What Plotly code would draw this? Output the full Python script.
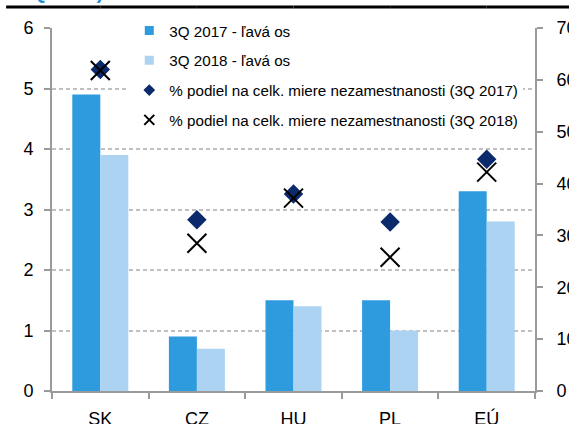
import plotly.graph_objects as go

categories = ["SK", "CZ", "HU", "PL", "EÚ"]
bars_2017 = [4.9, 0.9, 1.5, 1.5, 3.3]
bars_2018 = [3.9, 0.7, 1.4, 1.0, 2.8]
share_2017 = [62.0, 33.0, 38.0, 32.6, 44.7]
share_2018 = [61.8, 28.5, 37.2, 25.8, 42.2]

names = ["3Q 2017 - ľavá os", "3Q 2018 - ľavá os",
         "% podiel na celk. miere nezamestnanosti (3Q 2017)",
         "% podiel na celk. miere nezamestnanosti (3Q 2018)"]

FONT = "Liberation Sans, Arial, sans-serif"
AX = "#9a9a9a"
C17 = "#2E9BDE"
C18 = "#ADD3F2"
NAVY = "#0B2A6B"

fig = go.Figure()
fig.add_trace(go.Bar(x=categories, y=bars_2017, name=names[0], marker_color=C17,
                     marker_line_width=0, showlegend=False))
fig.add_trace(go.Bar(x=categories, y=bars_2018, name=names[1], marker_color=C18,
                     marker_line_width=0, showlegend=False))
fig.add_trace(go.Scatter(x=categories, y=share_2017, name=names[2], mode="markers", yaxis="y2",
                         marker=dict(symbol="diamond", size=15, color=NAVY), showlegend=False))
fig.add_trace(go.Scatter(x=categories, y=share_2018, name=names[3], mode="markers", yaxis="y2",
                         marker=dict(symbol="x-thin", size=19, color="#000000",
                                     line=dict(width=2, color="#000000")), showlegend=False))

# legend entries with small symbols
legend_markers = [
    dict(symbol="square", size=9, color=C17),
    dict(symbol="square", size=9, color=C18),
    dict(symbol="diamond", size=9, color=NAVY),
    dict(symbol="x-thin", size=10, color="#000", line=dict(width=2, color="#000")),
]
for i, (nm, mk) in enumerate(zip(names, legend_markers)):
    fig.add_trace(go.Scatter(x=[None], y=[None], mode="markers", name=nm, marker=mk,
                             legendgroup=f"g{i}", showlegend=True))

fig.update_layout(
    width=569, height=424,
    margin=dict(l=52, r=34, t=28, b=33, autoexpand=False),
    paper_bgcolor="white", plot_bgcolor="white",
    font=dict(family=FONT, color="#000000", size=16),
    barmode="group", bargap=0.42, bargroupgap=0,
    showlegend=True,
    legend=dict(x=0.16, y=1.038, xanchor="left", yanchor="top", bgcolor="white",
                borderwidth=0, font=dict(size=15.2, family=FONT), tracegroupgap=7,
                itemsizing="trace", traceorder="grouped"),
    xaxis=dict(type="category", showline=True, linecolor=AX, linewidth=2,
               ticks="outside", tickson="boundaries", ticklen=6, tickcolor=AX, tickwidth=2,
               tickfont=dict(size=18), showgrid=False, fixedrange=True,
               ticklabelstandoff=10, ticklabeloverflow="allow"),
    yaxis=dict(range=[0, 6], dtick=1, showline=True, linecolor=AX, linewidth=2,
               ticks="outside", ticklen=6, tickcolor=AX, tickwidth=2,
               tickfont=dict(size=18), showgrid=True, gridcolor="#C0C0C0",
               griddash="4px,3px", gridwidth=1.5, zeroline=False, ticklabelstandoff=7,
               ticklabeloverflow="allow"),
    yaxis2=dict(range=[0, 70], dtick=10, overlaying="y", side="right", showline=True,
                linecolor=AX, linewidth=2, ticks="outside", ticklen=6, tickcolor=AX,
                tickwidth=2, tickfont=dict(size=18), showgrid=False, zeroline=False,
                ticklabelstandoff=10, ticklabeloverflow="allow"),
    annotations=[
        dict(text="<b>3Q 2018)</b>", xref="paper", yref="paper",
             x=-0.07, y=1.062, xanchor="left", yanchor="bottom", showarrow=False,
             font=dict(size=20, color="#1E90D8", family=FONT)),
    ],
)
# black rule under the cropped title, drawn in short segments
rule_breaks = [-0.095, 0.1, 0.3, 0.5, 0.7, 0.9, 1.0, 1.075]
for a, b in zip(rule_breaks[:-1], rule_breaks[1:]):
    fig.add_shape(type="line", xref="paper", yref="paper", x0=a, x1=b,
                  y0=1.058, y1=1.058, line=dict(color="#000000", width=3))

fig.write_html("out.html", config={"displayModeBar": False},
               post_script="document.body.style.margin='0';document.body.style.padding='0';")
